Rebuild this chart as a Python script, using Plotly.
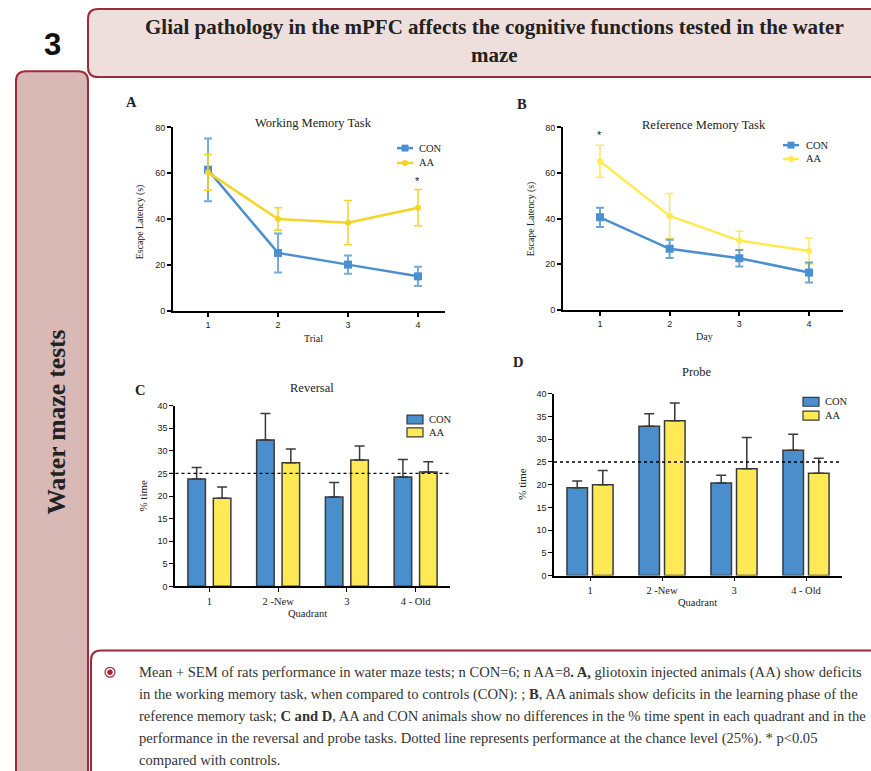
import plotly.graph_objects as go

W, H = 871, 771

# ---------------- data ----------------
trials = [1, 2, 3, 4]
wm_con = [61.5, 25.3, 20.2, 15.1]
wm_con_err = [13.7, 8.5, 4.0, 4.2]
wm_aa = [60.4, 40.1, 38.5, 45.0]
wm_aa_err = [7.8, 4.9, 9.6, 7.9]

days = [1, 2, 3, 4]
rm_con = [40.6, 26.8, 22.7, 16.4]
rm_con_err = [4.2, 4.0, 3.6, 4.4]
rm_aa = [65.2, 41.2, 30.4, 25.8]
rm_aa_err = [7.0, 9.8, 4.1, 5.7]

quadrants = ["1", "2 -New", "3", "4 - Old"]
rev_con = [23.8, 32.4, 19.8, 24.2]
rev_con_err = [2.5, 5.9, 3.2, 3.9]
rev_aa = [19.5, 27.4, 28.0, 25.3]
rev_aa_err = [2.5, 3.0, 3.1, 2.3]

probe_con = [19.3, 32.9, 20.4, 27.6]
probe_con_err = [1.5, 2.7, 1.7, 3.5]
probe_aa = [20.0, 34.1, 23.5, 22.5]
probe_aa_err = [3.1, 3.9, 6.9, 3.3]

chance_level = 25

# ---------------- styling ----------------
BLUE_L = "#4A8FD0"
YEL_A = "#F5D327"
YEL_B = "#FFEA50"
BAR_BLUE = "#4A8ECD"
BAR_YEL = "#FFEA55"
CRIMSON = "#9E2A3C"
SERIF = "Liberation Serif, Times New Roman, serif"
SANS = "Liberation Sans, Arial, sans-serif"


def px(x):
    return x / W


def py(y):
    return 1 - y / H


def dom_x(a, b):
    return [px(a), px(b)]


def dom_y(top, bottom):
    return [py(bottom), py(top)]


fig = go.Figure()

# ---- A: working memory (line) ----
fig.add_trace(go.Scatter(
    x=trials, y=wm_con, mode="lines+markers", name="CON",
    line=dict(color=BLUE_L, width=2.5),
    marker=dict(symbol="square", size=8, color=BLUE_L),
    error_y=dict(type="data", array=wm_con_err, color="rgba(74,143,208,0.75)", thickness=2, width=4),
    xaxis="x", yaxis="y", showlegend=False))
fig.add_trace(go.Scatter(
    x=trials, y=wm_aa, mode="lines+markers", name="AA",
    line=dict(color=YEL_A, width=2.5),
    marker=dict(symbol="circle", size=6, color=YEL_A),
    error_y=dict(type="data", array=wm_aa_err, color=YEL_A, thickness=1.5, width=4),
    xaxis="x", yaxis="y", showlegend=False))

# ---- B: reference memory (line) ----
fig.add_trace(go.Scatter(
    x=days, y=rm_aa, mode="lines+markers", name="AA",
    line=dict(color=YEL_B, width=2.5),
    marker=dict(symbol="circle", size=6, color=YEL_B),
    error_y=dict(type="data", array=rm_aa_err, color=YEL_B, thickness=1.5, width=4),
    xaxis="x2", yaxis="y2", showlegend=False))
fig.add_trace(go.Scatter(
    x=days, y=rm_con, mode="lines+markers", name="CON",
    line=dict(color=BLUE_L, width=2.5),
    marker=dict(symbol="square", size=8, color=BLUE_L),
    error_y=dict(type="data", array=rm_con_err, color="rgba(74,143,208,0.8)", thickness=2, width=4),
    xaxis="x2", yaxis="y2", showlegend=False))


def bar(xs, ys, err, color, width, offset, xa, ya):
    return go.Bar(
        x=xs, y=ys, width=width, offset=offset,
        marker=dict(color=color, line=dict(color="#3a3a3a", width=1.5)),
        error_y=dict(type="data", array=err, arrayminus=[0] * len(err), symmetric=False,
                     color="#3a3a3a", thickness=1.5, width=5),
        xaxis=xa, yaxis=ya, showlegend=False)


# ---- C: reversal ----
fig.add_trace(bar(quadrants, rev_con, rev_con_err, BAR_BLUE, 0.255, -0.3125, "x3", "y3"))
fig.add_trace(bar(quadrants, rev_aa, rev_aa_err, BAR_YEL, 0.255, 0.0575, "x3", "y3"))
# ---- D: probe ----
fig.add_trace(bar(quadrants, probe_con, probe_con_err, BAR_BLUE, 0.285, -0.32, "x4", "y4"))
fig.add_trace(bar(quadrants, probe_aa, probe_aa_err, BAR_YEL, 0.285, 0.035, "x4", "y4"))

tickfont = dict(family=SANS, size=9, color="#222")
cat_tickfont = dict(family=SERIF, size=10.5, color="#222")

axis_common = dict(showgrid=False, zeroline=False, showline=True, linecolor="black",
                   ticks="outside", ticklen=4, tickcolor="black", fixedrange=True)

fig.update_layout(
    width=W, height=H, margin=dict(l=0, r=0, t=0, b=0),
    paper_bgcolor="white", plot_bgcolor="rgba(0,0,0,0)",
    barmode="overlay",
    xaxis=dict(domain=dom_x(173, 445), range=[0.5, 4.386], tickvals=trials, linewidth=2,
               tickwidth=1.5, anchor="y", tickfont=tickfont, **axis_common),
    yaxis=dict(domain=dom_y(124, 310), range=[0, 80], tickvals=[0, 20, 40, 60, 80], linewidth=2,
               tickwidth=1.5, anchor="x", tickfont=tickfont, **axis_common),
    xaxis2=dict(domain=dom_x(563, 843), range=[0.469, 4.488], tickvals=days, linewidth=2,
                tickwidth=1.5, anchor="y2", tickfont=tickfont, **axis_common),
    yaxis2=dict(domain=dom_y(124, 309), range=[0, 80], tickvals=[0, 20, 40, 60, 80], linewidth=2,
                tickwidth=1.5, anchor="x2", tickfont=tickfont, **axis_common),
    xaxis3=dict(domain=dom_x(175, 450), range=[-0.5, 3.5], type="category", linewidth=1.5,
                tickwidth=1, anchor="y3", tickfont=cat_tickfont, **axis_common),
    yaxis3=dict(domain=dom_y(406, 589), range=[0, 40], tickvals=list(range(0, 41, 5)), linewidth=1.5,
                tickwidth=1, anchor="x3", tickfont=tickfont, **axis_common),
    xaxis4=dict(domain=dom_x(554, 842), range=[-0.5, 3.5], type="category", linewidth=1.5,
                tickwidth=1, anchor="y4", tickfont=cat_tickfont, **axis_common),
    yaxis4=dict(domain=dom_y(394, 578), range=[0, 40], tickvals=list(range(0, 41, 5)), linewidth=1.5,
                tickwidth=1, anchor="x4", tickfont=tickfont, **axis_common),
)

shapes = []
ann = []


def P(x, y):
    return f"{px(x):.5f},{py(y):.5f}"


r = 10
# Title box (left corners rounded, runs off right)
shapes.append(dict(type="path", xref="paper", yref="paper", layer="below",
                   path=f"M {P(900,4)} L {P(88+r,4)} Q {P(88,4)} {P(88,4+r)} L {P(88,73-r)} "
                        f"Q {P(88,73)} {P(88+r,73)} L {P(900,73)} Z",
                   fillcolor="#EEDFDD", line=dict(color=CRIMSON, width=2)))
# Sidebar
shapes.append(dict(type="path", xref="paper", yref="paper", layer="below",
                   path=f"M {P(16,800)} L {P(16,67+r)} Q {P(16,67)} {P(16+r,67)} L {P(88-r,67)} "
                        f"Q {P(88,67)} {P(88,67+r)} L {P(88,800)} Z",
                   fillcolor="#D8B9B6", line=dict(color=CRIMSON, width=2)))
# Caption box
shapes.append(dict(type="path", xref="paper", yref="paper", layer="below",
                   path=f"M {P(91,800)} L {P(91,654+r)} Q {P(91,654)} {P(91+r,654)} L {P(900,654)} "
                        f"L {P(900,800)} Z",
                   fillcolor="white", line=dict(color=CRIMSON, width=2)))
# bullet
shapes.append(dict(type="circle", xref="paper", yref="paper",
                   x0=px(105), x1=px(115), y0=py(681), y1=py(671),
                   line=dict(color=CRIMSON, width=1.2), fillcolor="white"))
shapes.append(dict(type="circle", xref="paper", yref="paper",
                   x0=px(107.3), x1=px(112.7), y0=py(678.7), y1=py(673.3),
                   line=dict(width=0), fillcolor=CRIMSON))

# chance level dotted lines
shapes.append(dict(type="line", xref="x3 domain", yref="y3", x0=-0.02, x1=1, y0=chance_level, y1=chance_level,
                   line=dict(color="black", width=1.3, dash="dot")))
shapes.append(dict(type="line", xref="x4 domain", yref="y4", x0=0, x1=1, y0=chance_level, y1=chance_level,
                   line=dict(color="black", width=1.3, dash="dot")))


def text(x, y, s, size=9, family=SERIF, color="#222", anchor="center", angle=0, bold=False):
    if bold:
        s = f"<b>{s}</b>"
    ann.append(dict(xref="paper", yref="paper", x=px(x), y=py(y), text=s, showarrow=False,
                    xanchor=anchor, yanchor="middle", textangle=angle,
                    font=dict(family=family, size=size, color=color)))


# header texts
text(52, 40, "3", size=31, family=SANS, color="#111", bold=True)
text(494, 22, "Glial pathology in the mPFC affects the cognitive functions tested in the water",
     size=21, bold=True, color="#222")
text(494, 51, "maze", size=21, bold=True, color="#222")
text(57, 423, "Water maze tests", size=25.5, bold=True, angle=-90, color="#222")

# panel letters
text(131, 98, "A", size=14.5, bold=True)
text(522, 100, "B", size=14.5, bold=True)
text(140, 390, "C", size=14.5, bold=True)
text(518, 362, "D", size=14.5, bold=True)

# chart titles
text(313, 120, "Working Memory Task", size=12.5)
text(704, 122, "Reference Memory Task", size=12.5)
text(312, 388, "Reversal", size=12.5)
text(697, 372, "Probe", size=12.5)

# axis titles
text(313, 338, "Trial", size=10)
text(704, 336, "Day", size=10)
text(307, 617, "Quadrant", size=10.5)
text(697, 605, "Quadrant", size=10.5)
text(140, 220, "Escape Latency (s)", size=9.8, angle=-90)
text(531, 217, "Escape Latency (s)", size=9.8, angle=-90)
text(143, 497, "% time", size=11, angle=-90)
text(522, 485, "% time", size=11, angle=-90)

# significance stars
ann.append(dict(xref="x", yref="y", x=4, y=56.5, text="*", showarrow=False,
                font=dict(family=SANS, size=11, color="#222")))
ann.append(dict(xref="x2", yref="y2", x=1, y=76.5, text="*", showarrow=False,
                font=dict(family=SANS, size=11, color="#222")))

# legends for line charts
for (lx, ly, col, sym) in [(397, 145, BLUE_L, "square"), (397, 160, YEL_A, "circle"),
                           (783, 142, BLUE_L, "square"), (783, 156, YEL_B, "circle")]:
    shapes.append(dict(type="line", xref="paper", yref="paper", x0=px(lx), x1=px(lx + 16),
                       y0=py(ly), y1=py(ly), line=dict(color=col, width=2.5)))
    cx = lx + 8
    if sym == "square":
        shapes.append(dict(type="rect", xref="paper", yref="paper", x0=px(cx - 3.5), x1=px(cx + 3.5),
                           y0=py(ly + 3.5), y1=py(ly - 3.5), fillcolor=col, line=dict(width=0)))
    else:
        shapes.append(dict(type="circle", xref="paper", yref="paper", x0=px(cx - 3), x1=px(cx + 3),
                           y0=py(ly + 3), y1=py(ly - 3), fillcolor=col, line=dict(width=0)))
text(417, 145, "CON", size=10.5, anchor="left")
text(417, 160, "AA", size=10.5, anchor="left")
text(804, 142, "CON", size=10.5, anchor="left")
text(804, 156, "AA", size=10.5, anchor="left")

# legends for bar charts
for (lx, ly, col) in [(407, 420, BAR_BLUE), (407, 433, BAR_YEL), (803, 402, BAR_BLUE), (803, 416, BAR_YEL)]:
    shapes.append(dict(type="rect", xref="paper", yref="paper", x0=px(lx), x1=px(lx + 16),
                       y0=py(ly + 4.5), y1=py(ly - 4.5), fillcolor=col,
                       line=dict(color="#3a3a3a", width=1.2)))
text(427, 420, "CON", size=10.5, anchor="left")
text(427, 433, "AA", size=10.5, anchor="left")
text(823, 402, "CON", size=10.5, anchor="left")
text(823, 416, "AA", size=10.5, anchor="left")

# caption
caption_lines = [
    "Mean + SEM of rats performance in water maze tests; n CON=6; n AA=8<b>. A,</b> gliotoxin injected animals (AA) show deficits",
    "in the working memory task, when compared to controls (CON): ; <b>B</b>, AA animals show deficits in the learning phase of the",
    "reference memory task; <b>C and D</b>, AA and CON animals show no differences in the % time spent in each quadrant and in the",
    "performance in the reversal and probe tasks. Dotted line represents performance at the chance level (25%). * p&lt;0.05",
    "compared with controls.",
]
for i, line in enumerate(caption_lines):
    text(137, 676 + i * 22.3, line, size=14.6, anchor="left", color="#333")

fig.update_layout(shapes=shapes, annotations=ann)
fig.write_html("out.html", config={"displayModeBar": False},
               post_script="document.body.style.margin='0px';")
